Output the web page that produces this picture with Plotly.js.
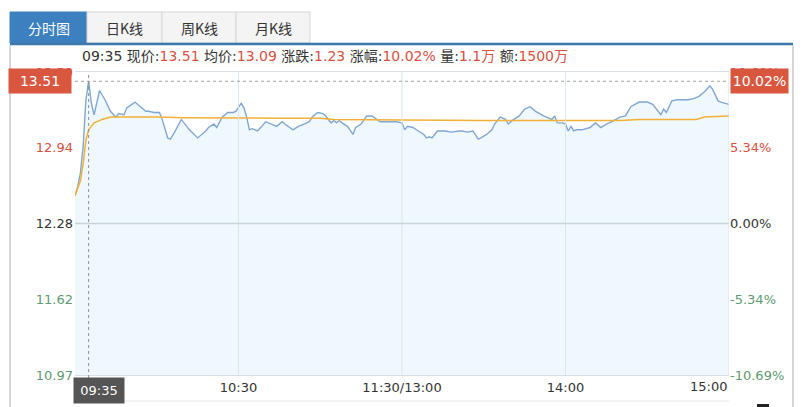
<!DOCTYPE html>
<html>
<head>
<meta charset="utf-8">
<script src="https://cdn.plot.ly/plotly-3.0.1.min.js"></script>
<style>
  html, body { margin: 0; padding: 0; background: #ffffff; }
  #chart { width: 800px; height: 407px; }
</style>
</head>
<body>
<div id="chart"></div>
<script>
// ---------- data ----------
const prevClose = 12.28;
const crossTime = '09:35';

const priceTimes = ['09:30','09:31','09:32','09:33','09:34','09:35','09:36','09:37','09:39','09:41','09:43','09:45','09:46','09:48','09:49','09:52','09:54','09:56','09:57','09:59','10:01','10:02','10:04','10:05','10:07','10:09','10:12','10:15','10:18','10:19','10:21','10:22','10:24','10:26','10:28','10:29','10:31','10:32','10:33','10:34','10:35','10:37','10:40','10:42','10:44','10:46','10:47','10:50','10:52','10:54','10:56','10:57','10:59','11:01','11:02','11:04','11:05','11:06','11:07','11:08','11:10','11:12','11:13','11:15','11:17','11:19','11:22','11:24','11:28','11:30','13:01','13:02','13:04','13:06','13:08','13:09','13:10','13:11','13:13','13:16','13:18','13:21','13:22','13:24','13:26','13:28','13:29','13:31','13:33','13:34','13:36','13:38','13:39','13:41','13:43','13:45','13:47','13:49','13:52','13:55','13:56','13:57','13:59','14:00','14:01','14:02','14:03','14:04','14:06','14:09','14:11','14:13','14:15','14:17','14:20','14:22','14:24','14:27','14:30','14:32','14:34','14:35','14:36','14:37','14:38','14:39','14:41','14:45','14:47','14:49','14:51','14:53','14:54','14:56','14:57','15:00'];
const prices = [12.52,12.60,12.72,12.95,13.35,13.51,13.32,13.22,13.43,13.35,13.25,13.20,13.23,13.22,13.28,13.33,13.29,13.25,13.25,13.24,13.24,13.18,13.02,13.01,13.09,13.18,13.09,13.02,13.08,13.11,13.14,13.11,13.20,13.24,13.24,13.25,13.32,13.28,13.20,13.09,13.10,13.08,13.16,13.14,13.12,13.16,13.14,13.09,13.12,13.14,13.16,13.20,13.24,13.23,13.21,13.15,13.17,13.15,13.17,13.15,13.12,13.05,13.11,13.14,13.21,13.21,13.16,13.16,13.16,13.15,13.09,13.12,13.11,13.08,13.05,13.02,13.03,13.02,13.08,13.08,13.07,13.08,13.08,13.07,13.08,13.01,13.02,13.05,13.09,13.14,13.20,13.18,13.14,13.18,13.21,13.27,13.29,13.25,13.21,13.18,13.21,13.15,13.15,13.14,13.08,13.12,13.08,13.09,13.09,13.11,13.15,13.11,13.14,13.16,13.20,13.21,13.29,13.33,13.33,13.31,13.25,13.22,13.27,13.24,13.29,13.34,13.35,13.35,13.36,13.38,13.42,13.47,13.44,13.34,13.33,13.31];

const avgTimes = ['09:30','09:31','09:32','09:33','09:34','09:35','09:37','09:40','09:43','10:00','10:10','10:45','11:00','11:05','11:30','13:01','13:30','14:00','14:20','14:27','14:48','14:51','15:00'];
const avgPrices = [12.52,12.58,12.65,12.80,13.00,13.09,13.15,13.18,13.20,13.20,13.195,13.19,13.19,13.18,13.18,13.175,13.17,13.17,13.17,13.18,13.18,13.20,13.21];

const leftTickVals  = [13.59, 12.94, 12.28, 11.62, 10.97];
const leftTickText  = ['13.59','12.94','12.28','11.62','10.97'];
const rightTickText = ['10.69%','5.34%','0.00%','-5.34%','-10.69%'];
const xTickTimes  = ['10:30','11:30','14:00','15:00'];
const xTickLabels = ['10:30','11:30/13:00','14:00','15:00'];

const tabs = ['分时图','日K线','周K线','月K线'];
const infoLabels = ['现价','均价','涨跌','涨幅','量','额'];
const infoValues = ['13.51','13.09','1.23','10.02%','1.1万','1500万'];
const boxPrice = '13.51';
const boxPct = '10.02%';

// ---------- helpers ----------
function toIdx(t) {
  const [h, m] = t.split(':').map(Number);
  const mins = h * 60 + m;
  return mins <= 690 ? mins - 570 : mins - 780 + 120;
}
const L = 75, R = 729, T = 72, B = 375;
const px = x => (x - L) / (R - L);
const py = y => (B - y) / (B - T);

const RED = '#d9503f', GREEN = '#5e9a72', DARK = '#333333';
const colorFor = v => v > prevClose + 1e-6 ? RED : (v < prevClose - 1e-6 ? GREEN : DARK);
const FONT = 'DejaVu Sans, Noto Sans CJK SC, sans-serif';
const CJK = 'Noto Sans CJK SC, DejaVu Sans, sans-serif';

const xP = priceTimes.map(toIdx);
const xA = avgTimes.map(toIdx);
const xc = toIdx(crossTime);
const yRange = [10.97, 13.59];

const traces = [
  { x: xP, y: prices, type: 'scatter', mode: 'lines', fill: 'tozeroy',
    fillcolor: '#eff8fc', line: { color: '#80a6d2', width: 1.4 }, hoverinfo: 'skip' },
  { x: xA, y: avgPrices, type: 'scatter', mode: 'lines', yaxis: 'y2',
    line: { color: '#f2b134', width: 1.5 }, hoverinfo: 'skip' }
];

const shapes = [];
const annotations = [];

// tabs
const tabX = [10, 87, 162, 236, 310];
tabs.forEach((t, i) => {
  shapes.push({ type: 'rect', xref: 'paper', yref: 'paper',
    x0: px(tabX[i]), x1: px(tabX[i + 1]), y0: py(43), y1: py(12),
    fillcolor: i === 0 ? '#3d80c0' : '#f4f4f4',
    line: { color: i === 0 ? '#3d80c0' : '#d6d6d6', width: 1 }, layer: 'above' });
  annotations.push({ xref: 'paper', yref: 'paper', x: px((tabX[i] + tabX[i + 1]) / 2), y: py(28),
    text: t, showarrow: false, xanchor: 'center', yanchor: 'middle',
    font: { family: CJK, size: 14, color: i === 0 ? '#ffffff' : DARK } });
});
// blue rule under tabs
shapes.push({ type: 'line', xref: 'paper', yref: 'paper', x0: px(10), x1: px(793), y0: py(44), y1: py(44),
  line: { color: '#3d78ad', width: 2.5 }, layer: 'above' });
// outer frame
shapes.push({ type: 'line', xref: 'paper', yref: 'paper', x0: px(10), x1: px(10), y0: py(45), y1: py(407),
  line: { color: '#c8c8c8', width: 1.5 } });
shapes.push({ type: 'line', xref: 'paper', yref: 'paper', x0: px(793), x1: px(793), y0: py(45), y1: py(407),
  line: { color: '#c8c8c8', width: 1.5 } });
// small dark mark at the bottom right edge
shapes.push({ type: 'rect', xref: 'paper', yref: 'paper', x0: px(757), x1: px(769), y0: py(407), y1: py(404),
  fillcolor: '#222222', line: { width: 0 } });
// line under x labels
shapes.push({ type: 'line', xref: 'paper', yref: 'paper', x0: 0, x1: 1, y0: py(401), y1: py(401),
  line: { color: '#e6e6e6', width: 1 } });
// vertical grid lines (above the fill, as in the reference)
xTickTimes.forEach(t => {
  shapes.push({ type: 'line', xref: 'x', yref: 'paper', x0: toIdx(t), x1: toIdx(t), y0: 0, y1: 1,
    line: { color: '#dbe5ed', width: 1 }, layer: 'above' });
});
// prev close line
shapes.push({ type: 'line', xref: 'x', yref: 'y', x0: 0, x1: 240, y0: prevClose, y1: prevClose,
  line: { color: '#c9d3db', width: 1.5 }, layer: 'above' });
// crosshair
const crossPrice = prices[priceTimes.indexOf(crossTime)];
shapes.push({ type: 'line', xref: 'x', yref: 'y', x0: 0, x1: 240, y0: crossPrice, y1: crossPrice,
  line: { color: '#a0a0a0', width: 1, dash: 'dot' }, layer: 'above' });
shapes.push({ type: 'line', xref: 'x', yref: 'paper', x0: xc, x1: xc, y0: py(402), y1: 1,
  line: { color: '#909090', width: 1, dash: 'dot' }, layer: 'above' });

// info line
let info = crossTime;
infoLabels.forEach((l, i) => {
  info += ' ' + l + ':<span style="color:' + RED + '">' + infoValues[i] + '</span>';
});
annotations.push({ xref: 'paper', yref: 'paper', x: px(80), y: py(56), xanchor: 'left', yanchor: 'middle',
  text: info, showarrow: false, font: { family: FONT, size: 14, color: DARK } });

// value boxes
annotations.push({ xref: 'paper', yref: 'y', x: px(72), y: crossPrice, xanchor: 'right', yanchor: 'middle',
  text: boxPrice, showarrow: false, bgcolor: '#d9573f', width: 58, height: 20, borderpad: 2,
  font: { family: FONT, size: 14, color: '#ffffff' } });
annotations.push({ xref: 'paper', yref: 'y', x: 1, xshift: 1, y: crossPrice, xanchor: 'left', yanchor: 'middle',
  text: boxPct, showarrow: false, bgcolor: '#d9573f', width: 53, height: 20, borderpad: 2,
  font: { family: FONT, size: 14, color: '#ffffff' } });
annotations.push({ xref: 'paper', yref: 'paper', x: px(73), y: py(377), xanchor: 'left', yanchor: 'top',
  text: crossTime, showarrow: false, bgcolor: '#555555', width: 46, height: 21, borderpad: 2,
  font: { family: FONT, size: 13, color: '#ffffff' } });
// last x label right-aligned at plot edge
annotations.push({ xref: 'x', yref: 'paper', x: toIdx(xTickTimes[3]), y: py(377), xanchor: 'right', yanchor: 'top',
  text: xTickLabels[3], showarrow: false, font: { family: FONT, size: 13, color: DARK } });

const layout = {
  width: 800, height: 407,
  margin: { l: L, r: 800 - R, t: T, b: 407 - B, pad: 0 },
  paper_bgcolor: '#ffffff', plot_bgcolor: '#ffffff',
  showlegend: false,
  font: { family: FONT, size: 13, color: DARK },
  xaxis: {
    range: [0, 240], fixedrange: true,
    tickvals: xTickTimes.slice(0, 3).map(toIdx), ticktext: xTickLabels.slice(0, 3),
    showgrid: false,
    zeroline: false, showline: true, mirror: true, linecolor: '#d6dde3', linewidth: 1,
    ticks: '', tickfont: { family: FONT, size: 13, color: DARK }
  },
  yaxis: {
    range: yRange, fixedrange: true,
    tickvals: leftTickVals,
    ticktext: leftTickText.map((t, i) => '<span style="color:' + colorFor(leftTickVals[i]) + '">' + t + '</span>'),
    showgrid: false, zeroline: false, ticks: '', ticklabelstandoff: 1,
    tickfont: { family: FONT, size: 13 }
  },
  yaxis2: {
    range: yRange, overlaying: 'y', side: 'right', fixedrange: true,
    tickvals: leftTickVals,
    ticktext: rightTickText.map((t, i) => '<span style="color:' + colorFor(leftTickVals[i]) + '">' + t + '</span>'),
    showgrid: false, zeroline: false, ticks: '', ticklabelstandoff: 0,
    tickfont: { family: FONT, size: 13 }
  },
  shapes: shapes,
  annotations: annotations
};

Plotly.newPlot('chart', traces, layout, { displayModeBar: false, staticPlot: true });
</script>
</body>
</html>
